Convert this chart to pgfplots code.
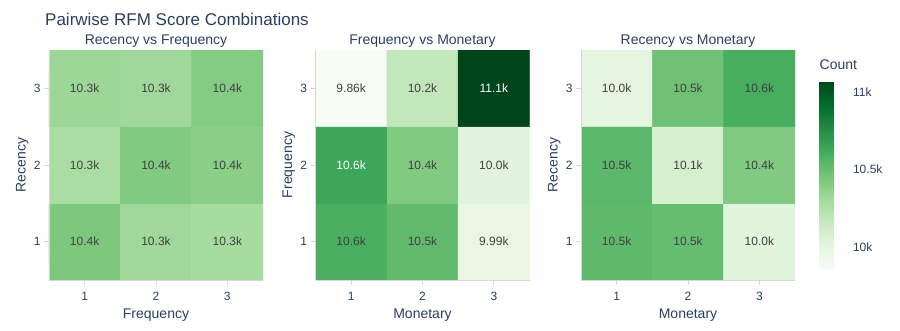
\documentclass[border=0pt]{standalone}
\usepackage{fontspec}
\setmainfont{Liberation Sans}
\usepackage{pgfplots}
\pgfplotsset{compat=1.18}
\definecolor{txt}{HTML}{2A3F5F}
\definecolor{celltxt}{RGB}{64,64,64}
\definecolor{axgray}{RGB}{215,215,215}

\pgfplotsset{
 colormap={greens}{rgb255=(247,252,245) rgb255=(229,245,224) rgb255=(199,233,192) rgb255=(161,217,155) rgb255=(116,196,118) rgb255=(65,171,93) rgb255=(35,139,69) rgb255=(0,109,44) rgb255=(0,68,27)},
 hm/.style={
   scale only axis, width=214pt, height=230pt,
   anchor=south west,
   xmin=0.5,xmax=3.5,ymin=0.5,ymax=3.5,
   xtick={1,2,3}, ytick={1,2,3},
   axis x line*=bottom, axis y line*=left,
   axis line style={-, draw=axgray, line width=0.8pt},
   tick style={draw=axgray, line width=0.8pt},
   tick align=outside, major tick length=5pt,
   ticklabel style={font=\fontsize{12}{14}\selectfont, text=txt},
   xticklabel style={yshift=-4pt},
   label style={font=\fontsize{14}{16}\selectfont, text=txt},
   /pgf/number format/assume math mode=true,
   colormap name=greens, point meta min=9860, point meta max=11070,
   axis on top,
   enlargelimits=false,
   xlabel style={at={(axis description cs:0.5,-0.152)}, anchor=center},
   ylabel style={at={(axis description cs:-0.125,0.5)}, anchor=center},
 },
 cell/.style={draw=none, nodes near coords, point meta=explicit symbolic,
   nodes near coords style={anchor=center, font=\fontsize{12}{14}\selectfont, text=#1}},
}

\begin{document}
\begin{tikzpicture}
\useasboundingbox (0,0) rectangle (900pt,330pt);

% Panel 1: Recency vs Frequency
\begin{axis}[hm, at={(49pt,50pt)}, xlabel={Frequency}, ylabel={Recency}]
\addplot[matrix plot*, mesh/cols=3, point meta=explicit] table[meta=c] {
x y c
1 1 10440
2 1 10320
3 1 10290
1 2 10280
2 2 10420
3 2 10390
1 3 10330
2 3 10320
3 3 10410
};
\addplot[cell=celltxt] table[meta=l] {
x y l
1 1 10.4k
2 1 10.3k
3 1 10.3k
1 2 10.3k
2 2 10.4k
3 2 10.4k
1 3 10.3k
2 3 10.3k
3 3 10.4k
};
\end{axis}

% Panel 2: Frequency vs Monetary
\begin{axis}[hm, at={(315.5pt,50pt)}, xlabel={Monetary}, ylabel={Frequency}]
\addplot[matrix plot*, mesh/cols=3, point meta=explicit] table[meta=c] {
x y c
1 1 10590
2 1 10520
3 1 9990
1 2 10640
2 2 10420
3 2 10020
1 3 9860
2 3 10180
3 3 11070
};
\addplot[cell=celltxt] table[meta=l] {
x y l
1 1 10.6k
2 1 10.5k
3 1 9.99k
2 2 10.4k
3 2 10.0k
1 3 9.86k
2 3 10.2k
};
\addplot[cell=white] table[meta=l] {
x y l
1 2 10.6k
3 3 11.1k
};
\end{axis}

% Panel 3: Recency vs Monetary
\begin{axis}[hm, at={(581pt,50pt)}, xlabel={Monetary}, ylabel={Recency},
  colorbar,
  colorbar style={
    at={(parent axis.north east)}, anchor=north west, xshift=16pt, yshift=-31pt,
    scale only axis, width=30pt, height=188pt,
    ytick={10000,10500,11000}, yticklabels={10k,10.5k,11k},
    scaled y ticks=false,
    major tick length=0pt, axis line style={draw=none},
    yticklabel style={font=\fontsize{12}{14}\selectfont, text=txt},
    /pgf/number format/assume math mode=true,
    title={Count},
    title style={font=\fontsize{14}{16}\selectfont, text=txt, at={(0,1)}, anchor=base west, yshift=6pt, inner sep=0pt},
  }]
\addplot[matrix plot*, mesh/cols=3, point meta=explicit] table[meta=c] {
x y c
1 1 10530
2 1 10510
3 1 10030
1 2 10540
2 2 10090
3 2 10420
1 3 10010
2 3 10480
3 3 10600
};
\addplot[cell=celltxt] table[meta=l] {
x y l
1 1 10.5k
2 1 10.5k
3 1 10.0k
1 2 10.5k
2 2 10.1k
3 2 10.4k
1 3 10.0k
2 3 10.5k
3 3 10.6k
};
\end{axis}

\node[anchor=base west, font=\fontsize{17}{20}\selectfont, text=txt, inner sep=0pt] at (45pt,304.5pt) {Pairwise RFM Score Combinations};
\node[anchor=base, font=\fontsize{14}{16}\selectfont, text=txt, inner sep=0pt] at (156pt,285pt) {Recency vs Frequency};
\node[anchor=base, font=\fontsize{14}{16}\selectfont, text=txt, inner sep=0pt] at (422.5pt,285pt) {Frequency vs Monetary};
\node[anchor=base, font=\fontsize{14}{16}\selectfont, text=txt, inner sep=0pt] at (688pt,285pt) {Recency vs Monetary};
\end{tikzpicture}
\end{document}
